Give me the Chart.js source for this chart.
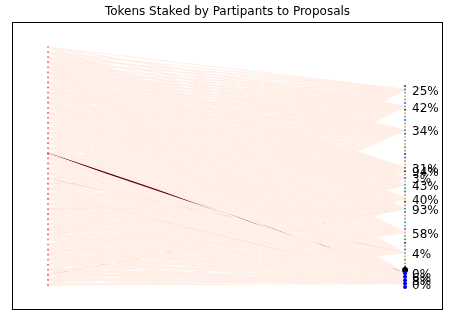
<!DOCTYPE html>
<html>
<head>
<meta charset="utf-8">
<script src="https://cdn.jsdelivr.net/npm/chart.js@4/dist/chart.umd.min.js"></script>
<style>
html,body{margin:0;padding:0;background:#fff;}
#wrap{width:449px;height:321px;}
</style>
</head>
<body>
<div id="wrap"><canvas id="c" width="449" height="321"></canvas></div>
<script>
// ---- DATA ----
const chartTitle = "Tokens Staked by Partipants to Proposals";
const participantCount = 48;
// proposal slot index in the right column (0..59) and its label
const proposalSlots  = [1, 6, 13, 24, 25, 27, 29, 33, 36, 43, 49, 55, 56, 57, 58];
const proposalLabels = ["25%","42%","34%","31%","94%","3%","43%","40%","93%","58%","4%","0%","6%","8%","0%"];
// tokens staked by each participant (0..47) on each proposal
const stakeP0  = [4,4,5,4,3,4, 3,4,5,3,4,3, 3,4,3,5,4,3, 3,3,4,0,3,4, 3,3,0,3,4,0, 3,3,0,3,4,0, 3,0,3,0,3,4, 0,3,0,3,0,4];
const stakeP1  = [5,4,4,3,4,5, 4,3,4,4,3,5, 4,3,4,3,3,4, 3,4,3,3,0,3, 4,3,0,5,3,3, 0,3,4,0,3,3, 4,0,3,0,4,0, 3,3,0,3,4,0];
const stakeP2  = [4,3,4,5,4,3, 4,5,3,4,6,3, 4,4,3,4,3,5, 4,3,4,4,3,3, 3,4,4,0,3,4, 3,3,0,4,3,0, 12,3,4,0,3,3, 0,4,3,0,3,4];
const stakeP3  = [3,4,3,4,0,4, 3,4,3,3,4,3, 5,3,4,3,4,0, 4,3,3,0,4,3, 4,0,3,4,0,3, 4,0,3,3,0,4, 3,3,0,3,4,0, 3,0,3,4,0,3];
const stakeP4  = [4,3,4,0,5,3, 4,3,4,0,4,4, 3,4,0,4,3,4, 0,5,3,4,4,0, 3,3,4,0,4,3, 0,4,3,4,0,3, 3,4,0,3,3,4, 0,3,4,0,3,3];
const stakeP5  = [3,4,0,3,4,0, 3,4,3,4,0,3, 4,0,4,3,4,3, 0,4,3,0,4,4, 3,4,0,3,3,0, 4,3,0,3,3,0, 3,4,0,3,0,3, 3,4,0,3,0,4];
const stakeP6  = [4,0,3,4,0,3, 4,0,3,0,4,3, 0,4,3,0,4,4, 3,0,4,3,0,4, 3,0,4,12,3,0, 4,3,4,0,3,4, 0,3,4,0,4,3, 0,4,3,4,0,3];
const stakeP7  = [3,4,0,3,4,0, 3,4,4,0,3,4, 4,0,3,4,0,3, 4,3,0,4,3,0, 4,0,3,0,4,3, 4,0,3,4,0,3, 4,3,0,4,3,4, 0,3,4,0,3,4];
const stakeP8  = [0,3,4,0,3,4, 0,3,4,3,0,3, 4,0,3,4,3,4, 3,4,0,3,4,0, 3,4,0,3,0,4, 3,4,10,3,4,0, 3,4,0,4,3,0, 4,3,0,16,3,3];
const stakeP9  = [0,3,0,4,3,0, 4,0,3,4,0,3, 3,4,0,3,4,0, 4,3,4,0,3,4, 3,0,4,3,4,0, 3,4,0,3,4,3, 4,0,4,3,0,4, 3,4,0,3,4,3];
const stakeP10 = [0,0,3,0,4,0, 3,0,4,0,3,4, 0,3,4,0,3,0, 4,0,3,4,0,4, 3,4,14,0,4,3, 4,0,3,4,3,4, 0,4,3,0,4,3, 4,3,4,0,3,4];
const stakeP11 = [0,0,0,3,0,4, 0,3,0,4,0,3, 0,3,0,4,3,0, 3,0,3,100,0,3, 4,3,0,3,0,4, 3,0,4,3,0,3, 4,0,3,4,3,0, 4,3,0,4,3,4];
const stakeP12 = [0,0,3,0,4,0, 0,3,4,0,3,0, 4,0,3,0,3,4, 0,3,4,0,3,0, 3,4,0,3,4,0, 3,4,0,4,3,0, 3,4,0,3,4,3, 0,4,3,3,4,4];
const stakeP13 = [0,0,0,4,0,3, 0,0,3,0,4,0, 3,4,0,3,0,3, 4,0,3,0,4,3, 0,3,0,4,3,10, 3,0,4,3,4,0, 4,3,0,4,3,4, 3,0,4,3,4,4];
const stakeP14 = [0,0,0,0,3,4, 0,4,0,3,0,4, 0,3,0,3,4,0, 3,4,0,3,0,4, 3,0,4,3,0,3, 4,3,0,3,4,0, 3,4,3,4,0,3, 4,3,4,3,4,4];
// status category of each node in the right column (60 slots)
const rightStatus = ["k","b","g","o","g","b","g","k","o","g","b","g","o","n","b","o","g","o","n","g","k","b","g","o",
                     "b","k","g","b","o","g","n","b","g","o","k","g","n","b","o","g","n","g","b","o","g","n","k","g",
                     "b","g","o","n","g","k","K","B","B","B","B","B"];

// ---- BUILD ----
const stakes = [stakeP0,stakeP1,stakeP2,stakeP3,stakeP4,stakeP5,stakeP6,stakeP7,stakeP8,stakeP9,stakeP10,stakeP11,stakeP12,stakeP13,stakeP14];
const LEFT_X = 0.0835, RIGHT_X = 0.912;
const RIGHT_OFF = 7.70, RIGHT_STEP = 0.6728;
const rightY = j => RIGHT_OFF + j * RIGHT_STEP;

const redsStops = ["#fff5f0","#fee0d2","#fcbba1","#fc9272","#fb6a4a","#ef3b2c","#cb181d","#a50f15","#67000d"];
function hex2rgb(h){return [parseInt(h.slice(1,3),16),parseInt(h.slice(3,5),16),parseInt(h.slice(5,7),16)];}
function reds(t){
  t = Math.max(0, Math.min(1, t));
  const p = t * (redsStops.length - 1), i = Math.min(Math.floor(p), redsStops.length - 2), f = p - i;
  const a = hex2rgb(redsStops[i]), b = hex2rgb(redsStops[i+1]);
  return `rgb(${Math.round(a[0]+(b[0]-a[0])*f)},${Math.round(a[1]+(b[1]-a[1])*f)},${Math.round(a[2]+(b[2]-a[2])*f)})`;
}
let maxStake = 0;
stakes.forEach(r => r.forEach(v => { if (v > maxStake) maxStake = v; }));

const datasets = [];
const totals = new Array(participantCount).fill(0);
let edgeCount = 0;
for (let p = 0; p < stakes.length; p++) {
  for (let i = 0; i < participantCount; i++) {
    const v = stakes[p][i];
    if (!v) continue;
    totals[i] += v;
    edgeCount++;
    datasets.push({
      type: 'scatter', showLine: true, pointRadius: 0, borderWidth: 1.2,
      borderColor: reds(v / maxStake),
      order: 100000 - edgeCount,   // draw edges in data order
      data: [{x: LEFT_X, y: i}, {x: RIGHT_X, y: rightY(proposalSlots[p])}]
    });
  }
}
// left nodes (drawn on top)
datasets.push({
  type: 'scatter', pointStyle: 'rect', pointRadius: 1.2, borderWidth: 0, order: -2,
  backgroundColor: totals.map(t => `rgba(255,0,0,${(0.25 + 0.75 * Math.min(1, t / 80)).toFixed(2)})`),
  data: totals.map((t, i) => ({x: LEFT_X, y: i}))
});
// right nodes
const statusColor = {k:'#333333', g:'#999999', b:'#3355ff', o:'#ffaa33', n:'#22aa44', K:'#000000', B:'#0000ff'};
const statusSize  = {k:1, g:1, b:1, o:1, n:1, K:3, B:2};
datasets.push({
  type: 'scatter', pointRadius: rightStatus.map(s => statusSize[s]), borderWidth: 0, order: -1,
  backgroundColor: rightStatus.map(s => statusColor[s]),
  data: rightStatus.map((s, j) => ({x: RIGHT_X, y: rightY(j)}))
});

const framePlugin = {
  id: 'frame',
  afterDraw(chart) {
    const {ctx, chartArea: a, scales} = chart;
    ctx.save();
    ctx.fillStyle = '#000';
    ctx.font = '12px "DejaVu Sans"';
    ctx.textAlign = 'left';
    ctx.textBaseline = 'middle';
    const lx = scales.x.getPixelForValue(RIGHT_X) + 7;
    proposalSlots.forEach((s, k) => {
      ctx.fillText(proposalLabels[k], lx, scales.y.getPixelForValue(rightY(s)) + 2);
    });
    ctx.strokeStyle = '#000';
    ctx.lineWidth = 1;
    ctx.strokeRect(Math.round(a.left) + 0.5, Math.round(a.top) + 0.5, Math.round(a.width) - 1, Math.round(a.height) - 1);
    ctx.restore();
  }
};

new Chart(document.getElementById('c'), {
  type: 'scatter',
  data: { datasets },
  options: {
    responsive: false, animation: false, events: [],
    layout: { padding: { left: 12, right: 6, top: 0, bottom: 11 } },
    plugins: {
      legend: { display: false }, tooltip: { enabled: false },
      title: { display: true, text: chartTitle, color: '#000',
               font: { family: 'DejaVu Sans', size: 12, weight: 'normal' },
               padding: { top: 4.5, bottom: 3.1 } }
    },
    scales: {
      x: { display: false, min: 0, max: 1 },
      y: { display: false, reverse: true, min: -4.937, max: 51.94 }
    }
  },
  plugins: [framePlugin]
});
</script>
</body>
</html>
